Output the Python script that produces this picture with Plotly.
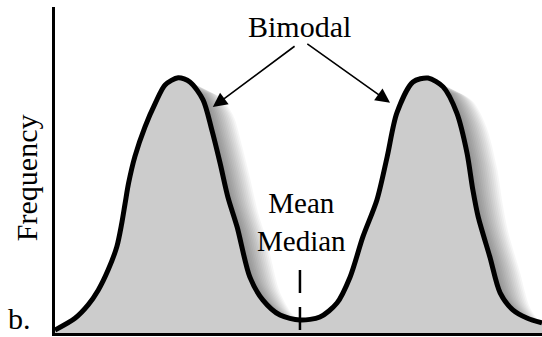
import plotly.graph_objects as go

# Curve (x: 0-100 along the axis, frequency: 0-100 of the axis height)
x_vals = [0, 4.1, 6.8, 8.9, 10.9, 12.7, 13.7, 14.4, 15.1, 16.4, 18.5, 20.6, 22.6, 25.3, 27.7, 30.4, 32.2,
          33.9, 35.5, 37.4, 40.0, 42.7, 46.2, 50.3, 54.4, 57.9, 60.6, 63.2, 66.1, 68.2, 70.2, 73.5,
          76.6, 79.7, 82.5, 84.6, 85.8, 86.9, 89.3, 91.4, 94.0, 96.9, 100]
freq = [0.9, 4.5, 8.6, 13.2, 19.3, 26.5, 33.6, 39.8, 45.9, 54.1, 63.3, 70.5, 76.1, 78.3, 77.0, 71.5, 62.3,
        52.1, 41.7, 32.5, 17.2, 10.1, 5.5, 4.0, 4.9, 9.2, 17.2, 29.4, 40.8, 54.0, 67.5, 77.0,
        78.2, 75.5, 67.5, 55.2, 43.9, 35.6, 23.3, 12.3, 7.1, 4.6, 3.1]
center_x = 50.3
dash_top = 19.3

FONT = "Liberation Serif, Times New Roman, serif"
PX_PER_X = 4.87  # plot width 487 px over 100 units
PX_PER_Y = 3.26  # plot height 326 px over 100 units

fig = go.Figure()

# soft drop shadow (copies of the curve shifted right and slightly down)
shadow_px = list(range(2, 31, 2))
for off in shadow_px:
    fig.add_trace(go.Scatter(
        x=[v + off / PX_PER_X for v in x_vals], y=[f - off * 0.5 / PX_PER_Y for f in freq],
        mode="lines", line=dict(width=0, color="rgba(0,0,0,0)", shape="spline", smoothing=0.8),
        fill="tozeroy", fillcolor="rgba(0,0,0,0.035)", hoverinfo="skip", showlegend=False))

fig.add_trace(go.Scatter(
    x=x_vals, y=freq, mode="lines", line=dict(color="black", width=5, shape="spline", smoothing=0.8),
    fill="tozeroy", fillcolor="#cccccc", hoverinfo="skip", showlegend=False))

# mean / median marker
fig.add_trace(go.Scatter(
    x=[center_x, center_x], y=[dash_top, 0], mode="lines",
    line=dict(color="black", width=2.5, dash="23px,14px"), hoverinfo="skip", showlegend=False))

annotations = [
    dict(x=50.3, y=93.9, xref="x", yref="y", text="Bimodal", showarrow=False,
         font=dict(family=FONT, size=30, color="black")),
    dict(x=32.4, y=69.3, ax=49.5, ay=88.3, xref="x", yref="y", axref="x", ayref="y", text="",
         showarrow=True, arrowhead=2, arrowsize=1.8, arrowwidth=1.6, arrowcolor="black"),
    dict(x=68.8, y=70.6, ax=51.5, ay=89.0, xref="x", yref="y", axref="x", ayref="y", text="",
         showarrow=True, arrowhead=2, arrowsize=1.8, arrowwidth=1.6, arrowcolor="black"),
    dict(x=50.7, y=34.0, xref="x", yref="y", text="Mean<br>Median", showarrow=False,
         font=dict(family=FONT, size=29, color="black")),
    dict(x=-0.0595, y=47.5, xref="paper", yref="y", text="Frequency", textangle=-90, showarrow=False,
         xanchor="center", yanchor="middle", font=dict(family=FONT, size=30, color="black")),
    dict(x=-0.0723, y=4.5, xref="paper", yref="y", text="b.", showarrow=False,
         xanchor="center", yanchor="middle", font=dict(family=FONT, size=30, color="black")),
]

fig.update_layout(
    width=542, height=337,
    margin=dict(l=55, r=0, t=7, b=4),
    paper_bgcolor="white", plot_bgcolor="white",
    annotations=annotations,
    xaxis=dict(range=[0, 100], showgrid=False, zeroline=False, showticklabels=False, ticks="",
               showline=True, linecolor="black", linewidth=3, fixedrange=True),
    yaxis=dict(range=[0, 100], showgrid=False, zeroline=False, showticklabels=False, ticks="",
               showline=True, linecolor="black", linewidth=3, fixedrange=True),
)

fig.write_html("out.html", post_script="document.body.style.margin='0';",
               config={"displayModeBar": False})
